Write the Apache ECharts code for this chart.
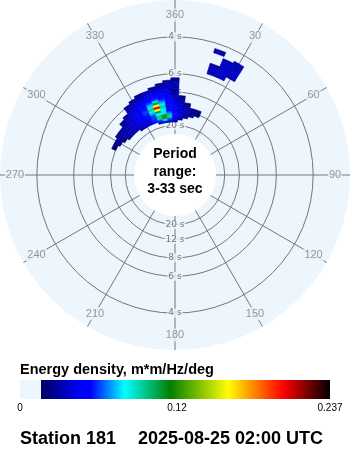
<!DOCTYPE html>
<html><head><meta charset="utf-8">
<script src="https://cdn.jsdelivr.net/npm/echarts@6/dist/echarts.min.js"></script>
<style>html,body{margin:0;padding:0;background:#fff;}#c{width:350px;height:450px;}</style>
</head><body><div id="c"></div>
<script>
// ---- data ----
const angleLabels = ['360','30','60','90','120','150','180','210','240','270','300','330'];
const spokeDirs = [0,30,60,90,120,150,180,210,240,270,300,330];
const ringPeriods = [4,6,8,12,20];
const periodMin = 3, periodMax = 33;
const centerText = ['Period','range:','3-33 sec'];

// main swell (directions in deg, frequencies in Hz, energy density)
const mainDirs = [295,300,305,310,315,320,325,330,335,340,345,350,355,0,5,10,15,20];
const mainFreqs = [0.060,0.065,0.070,0.075,0.080,0.085,0.090,0.095,0.100,0.105,0.110,0.115,0.120,0.125,0.130,0.135,0.140,0.145,0.150,0.155];
const mainEnergy = [
 [0,0,0,0,0,0,0,0,0,0,.03,.04,.038,.03,0,0,0,0],
 [0,0,0,0,0,0,.028,.033,.038,.045,.06,.075,.06,.042,.028,0,0,0],
 [0,0,0,.022,.026,.03,.034,.04,.045,.058,.095,.12,.095,.05,.036,.026,0,0],
 [0,0,.022,.027,.03,.033,.037,.042,.047,.06,.095,.12,.095,.055,.04,.03,.022,0],
 [0,.022,.026,.03,.033,.036,.04,.045,.05,.06,.08,.085,.065,.048,.04,.033,.026,.02],
 [.02,.025,.028,.032,.035,.038,.042,.046,.055,.072,.105,.078,.055,.046,.04,.034,.028,.022],
 [.02,.024,.027,.03,.033,.037,.041,.047,.058,.085,.16,.085,.055,.046,.038,.032,.026,.022],
 [0,0,.022,.026,.03,.035,.04,.048,.06,.095,.207,.095,.055,.045,.035,.028,0,0],
 [0,0,0,0,.028,.034,.04,.046,.055,.085,.16,.085,.052,.042,.032,.022,0,0],
 [0,0,0,0,.025,.032,.04,.045,.052,.072,.105,.072,.05,.04,.03,0,0,0],
 [0,0,0,0,0,.028,.036,.042,.05,.06,.075,.06,.047,.038,.028,0,0,0],
 [0,0,0,0,0,0,.033,.04,.046,.052,.058,.052,.045,.035,.025,0,0,0],
 [0,0,0,0,0,0,.03,.036,.042,.047,.05,.047,.042,.03,0,0,0,0],
 [0,0,0,0,0,0,.025,.033,.038,.042,.045,.043,.04,.028,0,0,0,0],
 [0,0,0,0,0,0,0,.025,.032,.036,.04,.04,.038,.028,0,0,0,0],
 [0,0,0,0,0,0,0,0,.022,.03,.035,.036,.036,.03,0,0,0,0],
 [0,0,0,0,0,0,0,0,0,0,.025,.032,.035,.03,0,0,0,0],
 [0,0,0,0,0,0,0,0,0,0,0,.025,.032,.032,0,0,0,0],
 [0,0,0,0,0,0,0,0,0,0,0,0,.025,.03,0,0,0,0],
 [0,0,0,0,0,0,0,0,0,0,0,0,0,.025,0,0,0,0]
];
// wind sea (north-east)
const seaDirs = [20,25,30];
const seaFreqs = [0.180,0.185,0.190,0.195,0.200,0.205,0.210,0.215,0.220,0.225,0.230,0.235];
const seaEnergy = [
 [.032,.033,0],
 [.033,.035,0],
 [.033,.036,.03],
 [.032,.036,.033],
 [.028,.035,.035],
 [0,.035,.035],
 [0,.035,.035],
 [0,.034,.034],
 [0,.03,.032],
 [0,0,.028],
 [.03,0,0],
 [.028,0,0]
];

const cbarMin = 0, cbarMax = 0.237;
const cbarTicks = [0, 0.12, 0.237];
const cbarTitle = 'Energy density, m*m/Hz/deg';
const stationText = 'Station 181';
const timeText = '2025-08-25 02:00 UTC';

// ---- colour scale ----
const DISK = '#eef6fd';
const cmapStops = [[0.0158,'#000060'],[0.047,'#0000ff'],[0.054,'#0000ff'],[0.080,'#00ffff'],[0.115,'#008000'],[0.159,'#ffff00'],[0.201,'#ff0000'],[0.237,'#000000']];
function hex2rgb(h){return [parseInt(h.slice(1,3),16),parseInt(h.slice(3,5),16),parseInt(h.slice(5,7),16)];}
function cmap(v){
  if (v <= cmapStops[0][0]) return cmapStops[0][1];
  for (let i=1;i<cmapStops.length;i++){
    if (v <= cmapStops[i][0]){
      const a=cmapStops[i-1], b=cmapStops[i];
      const t=(v-a[0])/(b[0]-a[0]);
      const ca=hex2rgb(a[1]), cb=hex2rgb(b[1]);
      return 'rgb('+ca.map((c,k)=>Math.round(c+(cb[k]-c)*t)).join(',')+')';
    }
  }
  return cmapStops[cmapStops.length-1][1];
}

function gridCells(dirs, freqs, energy){
  const hd=(dirs[1]-dirs[0]+360)%360/2, hf=(freqs[1]-freqs[0])/2;
  const out=[];
  energy.forEach((row,i)=>row.forEach((v,j)=>{ if(v>0) out.push([freqs[i], dirs[j], v, hd, hf]); }));
  return out;
}
const cells = gridCells(mainDirs, mainFreqs, mainEnergy).concat(gridCells(seaDirs, seaFreqs, seaEnergy));

const fMin = 1/periodMax, fMax = 1/periodMin;
const R0 = 41, R1 = 175, LABEL_R = 160;
const fLab = fMin + (LABEL_R-R0)/(R1-R0)*(fMax-fMin);

const gridColor = '#767676';
const chart = echarts.init(document.getElementById('c'), null, {renderer:'canvas'});
chart.setOption({
  animation:false,
  backgroundColor:'#ffffff',
  polar:{center:[175,175], radius:[R0,R1]},
  angleAxis:{type:'value', min:0, max:360, startAngle:90, clockwise:true,
    axisLine:{show:false}, axisTick:{show:false}, axisLabel:{show:false}, splitLine:{show:false}},
  radiusAxis:{type:'value', min:fMin, max:fMax, axisLine:{show:false}, axisTick:{show:false}, axisLabel:{show:false}, splitLine:{show:false}},
  grid:{left:20, top:380, width:310, height:19, outerBoundsMode:'none'},
  xAxis:{type:'value', min:cbarMin, max:cbarMax, axisLine:{show:false}, axisTick:{show:false}, splitLine:{show:false},
    axisLabel:{customValues:cbarTicks, showMinLabel:true, showMaxLabel:true, formatter:v=>String(v), fontSize:10, color:'#000', margin:4, fontFamily:'Liberation Sans, Arial'}},
  yAxis:{type:'value', min:0, max:1, show:false},
  graphic:{elements:[
    {type:'circle', shape:{cx:175, cy:175, r:R1}, style:{fill:DISK}, z:0, silent:true},
    {type:'circle', shape:{cx:175, cy:175, r:R0}, style:{fill:'#ffffff'}, z:0, silent:true},
    {type:'text', x:175, y:172, z:100, silent:true, style:{text:centerText.join('\n'), font:'bold 14px "Liberation Sans", Arial', fill:'#000', align:'center', verticalAlign:'middle', textAlign:'center', textVerticalAlign:'middle', lineHeight:17.5}},
    {type:'text', x:20, y:370, z:100, silent:true, style:{text:cbarTitle, font:'bold 14.5px "Liberation Sans", Arial', fill:'#000', align:'left', verticalAlign:'middle', textVerticalAlign:'middle'}},
    {type:'text', x:20, y:439, z:100, silent:true, style:{text:stationText, font:'bold 18px "Liberation Sans", Arial', fill:'#000', align:'left', verticalAlign:'middle', textVerticalAlign:'middle'}},
    {type:'text', x:138, y:439, z:100, silent:true, style:{text:timeText, font:'bold 18px "Liberation Sans", Arial', fill:'#000', align:'left', verticalAlign:'middle', textVerticalAlign:'middle'}}
  ]},
  series:[
    {type:'custom', coordinateSystem:'polar', z:1, silent:true, data:ringPeriods.map(T=>[1/T,0,T]),
      renderItem:(params, api)=>{
        const cs=params.coordSys; const p=api.coord([api.value(0),0]);
        return {type:'circle', shape:{cx:cs.cx, cy:cs.cy, r:Math.hypot(p[0]-cs.cx,p[1]-cs.cy)}, style:{fill:null, stroke:gridColor, lineWidth:1}};
      }},
    {type:'custom', coordinateSystem:'polar', z:1, silent:true, data:spokeDirs.map(d=>[fMin,d]),
      renderItem:(params, api)=>{
        const d=api.value(1); const a=api.coord([fMin,d]), b=api.coord([fMax,d]);
        return {type:'line', shape:{x1:a[0],y1:a[1],x2:b[0],y2:b[1]}, style:{stroke:gridColor, lineWidth:1}};
      }},
    {type:'scatter', coordinateSystem:'polar', z:2, silent:true, symbolSize:1, itemStyle:{color:'rgba(0,0,0,0)'},
      data:ringPeriods.flatMap(T=>[{name:T+' s', value:[1/T,0]},{name:T+' s', value:[1/T,180]}]),
      label:{show:true, position:'inside', formatter:'{b}', fontSize:9, fontFamily:'DejaVu Sans', color:'#5a5a5a', backgroundColor:DISK, padding:[0,1]}},
    {type:'scatter', coordinateSystem:'polar', z:2, silent:true, symbolSize:1, itemStyle:{color:'rgba(0,0,0,0)'},
      data:spokeDirs.map((d,i)=>({name:angleLabels[i], value:[fLab,d]})),
      label:{show:true, position:'inside', formatter:'{b}', fontSize:11, fontFamily:'Liberation Sans, Arial', color:'#808080', backgroundColor:DISK, padding:[1,1]}},
    {type:'custom', coordinateSystem:'polar', z:3, silent:true, data:cells,
      renderItem:(params, api)=>{
        const f=api.value(0), d=api.value(1), v=api.value(2), hd=api.value(3), hf=api.value(4);
        const pts=[]; const n=4;
        for(let i=0;i<=n;i++) pts.push(api.coord([f-hf, d-hd+2*hd*i/n]));
        for(let i=n;i>=0;i--) pts.push(api.coord([f+hf, d-hd+2*hd*i/n]));
        const c=cmap(v);
        return {type:'polygon', shape:{points:pts}, style:{fill:c, stroke:c, lineWidth:0.6}};
      }},
    {type:'custom', coordinateSystem:'cartesian2d', silent:true, data:[[cbarMin, cbarMax]],
      renderItem:(params, api)=>{
        const p0=api.coord([api.value(0),1]), p1=api.coord([api.value(1),0]);
        const span=cbarMax-cbarMin; const s0=cmapStops[0][0]/span;
        const stops=[{offset:0,color:DISK},{offset:s0,color:DISK}].concat(cmapStops.map(s=>({offset:(s[0]-cbarMin)/span,color:s[1]})));
        return {type:'rect', shape:{x:p0[0], y:p0[1], width:p1[0]-p0[0], height:p1[1]-p0[1]},
          style:{fill:new echarts.graphic.LinearGradient(0,0,1,0,stops)}};
      }}
  ]
});
</script></body></html>
